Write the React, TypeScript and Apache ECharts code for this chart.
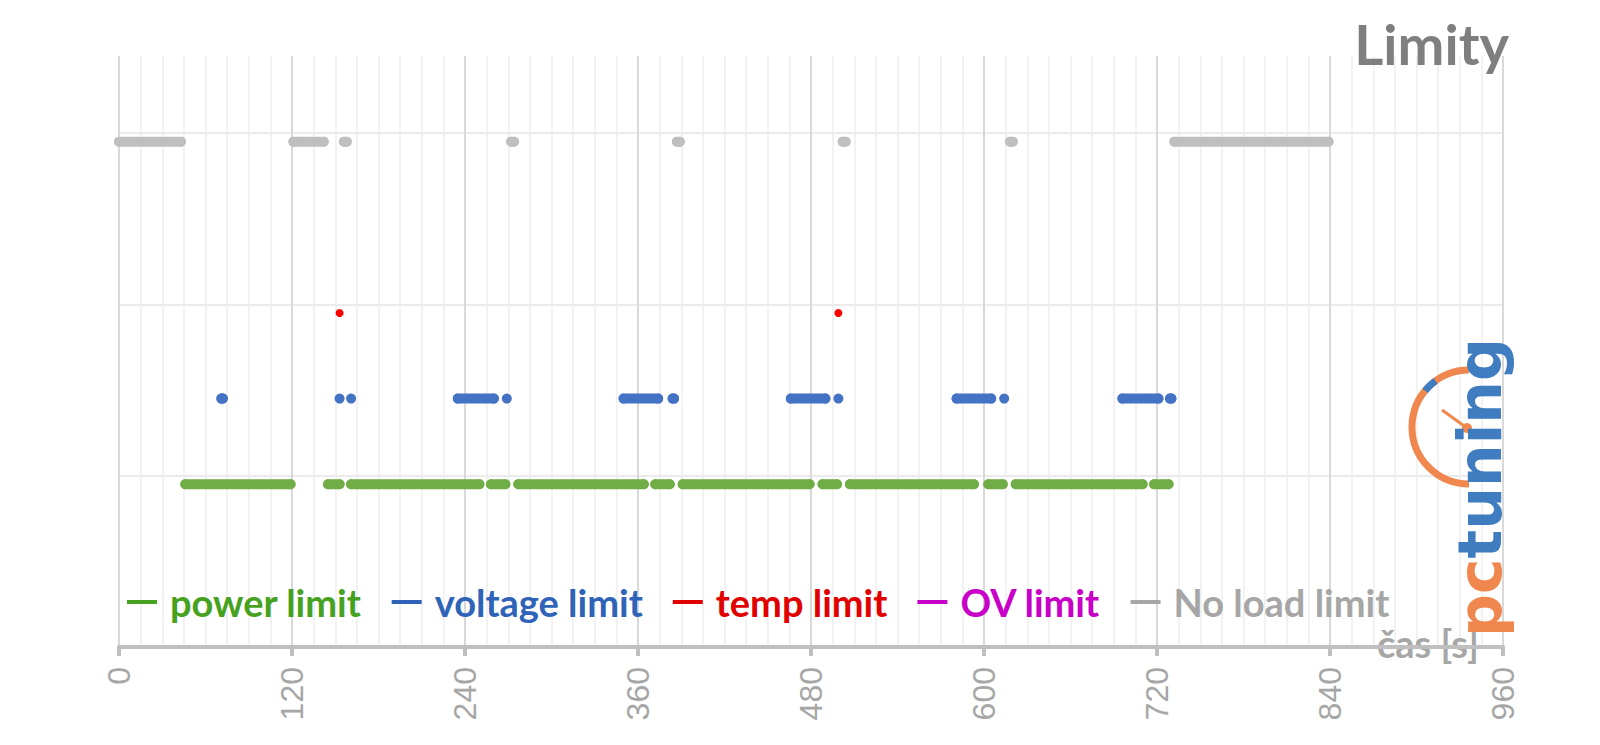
import React, { useEffect, useRef } from "react";
import * as echarts from "echarts";

// ---- data (time in seconds) ----
const seriesNames = ["power limit", "voltage limit", "temp limit", "OV limit", "No load limit"];
const seriesLevels = [1.9, 2.9, 3.9, 4.9, 5.9];
const seriesColors = ["#70ad47", "#4472c4", "#ff0000", "#cc00cc", "#bfbfbf"];
const legendTextColors = ["#46a11f", "#2f63b8", "#e00000", "#c800c8", "#a6a6a6"];

const powerLimitSegments = [
  [46, 119], [145, 153], [161, 250], [258, 268], [277, 364], [372, 382],
  [391, 479], [488, 498], [507, 593], [603, 613], [622, 710], [718, 728],
];
const voltageLimitSegments = [
  [71, 72], [153, 153], [161, 161], [235, 260], [269, 269], [350, 374], [384, 385],
  [466, 490], [499, 499], [581, 605], [614, 614], [696, 721], [729, 730],
];
const tempLimitSegments = [[153, 153], [499, 499]];
const ovLimitSegments: number[][] = [];
const noLoadLimitSegments = [
  [0, 43], [121, 142], [156, 158], [272, 274], [387, 389], [502, 504], [618, 620], [732, 839],
];
const allSegments = [powerLimitSegments, voltageLimitSegments, tempLimitSegments, ovLimitSegments, noLoadLimitSegments];
const markerSizes = [10, 10, 8, 10, 10];

function toLineData(segments: number[][], level: number) {
  const out: any[] = [];
  segments.forEach(([s, e]) => {
    out.push([s, level]);
    if (e !== s) out.push([e, level]);
    out.push([e, "-"]);
  });
  return out;
}

export default function App() {
  const ref = useRef<HTMLDivElement>(null);
  useEffect(() => {
    if (!ref.current) return;
    const chart = echarts.init(ref.current, null, { renderer: "svg" });
    const series = seriesNames.map((name, i) => ({
      name,
      type: "line",
      data: toLineData(allSegments[i], seriesLevels[i]),
      connectNulls: false,
      symbol: "circle",
      symbolSize: markerSizes[i],
      showSymbol: true,
      showAllSymbol: true,
      itemStyle: { color: seriesColors[i], borderWidth: 0 },
      lineStyle: { color: seriesColors[i], width: markerSizes[i], cap: "round" },
      emphasis: { disabled: true },
      z: 3,
    }));
    chart.setOption({
      animation: false,
      backgroundColor: "#ffffff",
      title: {
        text: "Limity",
        right: 86,
        top: 10,
        textStyle: { fontFamily: "Lato", fontWeight: "bold", fontSize: 56, color: "#7f7f7f" },
      },
      legend: {
        left: 127,
        top: 583,
        itemGap: 30,
        itemWidth: 30,
        itemHeight: 4,
        icon: "rect",
        padding: 0,
        selectedMode: false,
        textStyle: { fontFamily: "Lato", fontWeight: "bold", fontSize: 38, padding: [0, 0, 0, 8] },
        data: seriesNames.map((n, i) => ({
          name: n,
          itemStyle: { color: legendTextColors[i] },
          textStyle: { color: legendTextColors[i] },
        })),
      },
      grid: { left: 119, right: 97, top: 56, bottom: 98, containLabel: false },
      xAxis: {
        type: "value",
        min: 0,
        max: 960,
        interval: 120,
        name: "čas [s]",
        nameLocation: "end",
        nameGap: -126,
        nameTextStyle: {
          fontFamily: "Lato",
          fontWeight: "bold",
          fontSize: 38,
          color: "#a6a6a6",
          verticalAlign: "bottom",
          lineHeight: 8,
        },
        axisLine: { show: true, lineStyle: { color: "#bfbfbf", width: 4 } },
        axisTick: { show: true, length: 9, lineStyle: { color: "#bfbfbf", width: 4 } },
        axisLabel: { rotate: 90, margin: 20, fontSize: 32, color: "#a6a6a6", fontFamily: "Liberation Sans" },
        splitLine: { show: true, lineStyle: { color: "#d9d9d9", width: 2 } },
        minorTick: { show: false, splitNumber: 8 },
        minorSplitLine: { show: true, lineStyle: { color: "#eeeeee", width: 1.5 } },
      },
      yAxis: {
        type: "value",
        min: 0,
        max: 6.9,
        interval: 2,
        axisLine: { show: false },
        axisTick: { show: false },
        axisLabel: { show: false },
        splitLine: { show: true, showMinLine: false, showMaxLine: false, lineStyle: { color: "#ebebeb", width: 2 } },
      },
      series,
      graphic: [
        {
          type: "arc",
          shape: { cx: 1469, cy: 427, r: 57, startAngle: Math.PI / 2, endAngle: (3 * Math.PI) / 2, clockwise: true },
          style: { stroke: "#f0874e", lineWidth: 7, fill: "none" },
          z: 10,
        },
        {
          type: "arc",
          shape: { cx: 1469, cy: 427, r: 57, startAngle: 1.22 * Math.PI, endAngle: 1.3 * Math.PI, clockwise: true },
          style: { stroke: "#3f7dc0", lineWidth: 7, fill: "none" },
          z: 11,
        },
        {
          type: "line",
          shape: { x1: 1442, y1: 410, x2: 1467, y2: 428 },
          style: { stroke: "#f0874e", lineWidth: 3 },
          z: 10,
        },
        {
          type: "circle",
          shape: { cx: 1467, cy: 428, r: 5 },
          style: { fill: "#f0874e" },
          z: 10,
        },
        {
          type: "text",
          x: 1480,
          y: 637,
          rotation: Math.PI / 2,
          style: {
            text: "{a|pc}{b|tuning}",
            align: "left",
            verticalAlign: "middle",
            font: 'bold 60px "DejaVu Sans"',
            rich: {
              a: { fill: "#f0874e", font: 'bold 60px "DejaVu Sans"' },
              b: { fill: "#3f7dc0", font: 'bold 60px "DejaVu Sans"' },
            },
          },
          z: 10,
        },
      ],
    });
    return () => chart.dispose();
  }, []);
  return (
    <div
      ref={ref}
      style={{ position: "fixed", left: 0, top: 0, width: 1600, height: 745, background: "#fff" }}
    />
  );
}
